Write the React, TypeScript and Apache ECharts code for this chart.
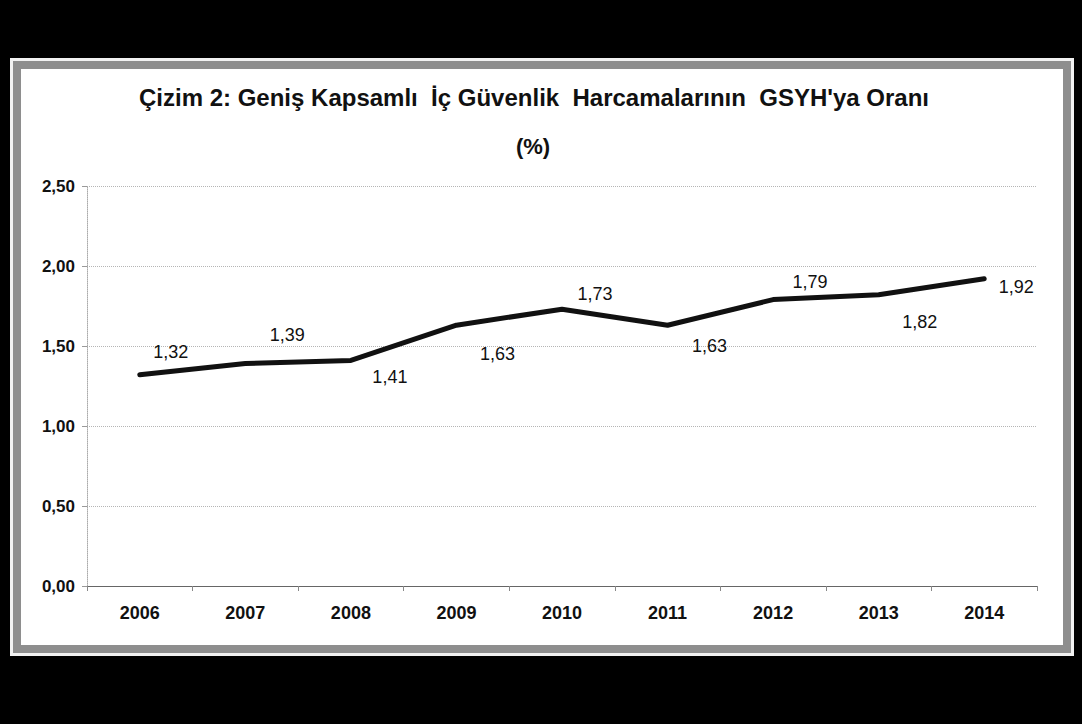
import React, { useEffect, useRef } from "react";
import * as echarts from "echarts";

const categories = ["2006", "2007", "2008", "2009", "2010", "2011", "2012", "2013", "2014"];
const values = [1.32, 1.39, 1.41, 1.63, 1.73, 1.63, 1.79, 1.82, 1.92];
const yTicks = [0, 0.5, 1, 1.5, 2, 2.5];
const titleLine1 = "Çizim 2: Geniş Kapsamlı  İç Güvenlik  Harcamalarının  GSYH'ya Oranı";
const titleLine2 = "(%)";

// label placement (style only)
const labelSide = ["top", "top", "bottom", "bottom", "top", "bottom", "top", "bottom", "right"];
const labelShift = [
  [31, -22], [42, -28], [39, 16], [41, 28], [33, -15], [42, 20], [37, -17], [41, 27], [14, 8],
];

const fmt = (v: number) => v.toFixed(2).replace(".", ",");
const FONT = "'Liberation Sans', Arial, sans-serif";

export default function App() {
  const ref = useRef<HTMLDivElement>(null);
  useEffect(() => {
    document.body.style.margin = "0";
    const chart = echarts.init(ref.current!, undefined, { renderer: "svg" });
    const seriesData = values.map((v, i) => {
      const side = labelSide[i];
      const [dx, dy] = labelShift[i];
      let offset: number[];
      if (side === "top") offset = [dx, dy + 9];
      else if (side === "bottom") offset = [dx, dy - 9];
      else offset = [0, dy];
      return {
        value: v,
        label: { position: side, distance: side === "right" ? dx : 0, offset },
      };
    });
    chart.setOption({
      animation: false,
      backgroundColor: "#000",
      graphic: [
        {
          type: "rect",
          z: -20,
          shape: { x: 10, y: 58, width: 1064, height: 598 },
          style: { fill: "#f2f2f2" },
          silent: true,
        },
        {
          type: "rect",
          z: -10,
          shape: { x: 17, y: 65, width: 1050, height: 584 },
          style: { fill: "#fff", stroke: "#8e8e8e", lineWidth: 8 },
          silent: true,
        },
        {
          type: "text",
          x: 534,
          y: 97,
          style: {
            text: titleLine1,
            fill: "#111",
            font: `bold 24px ${FONT}`,
            align: "center",
            verticalAlign: "middle",
          },
        },
        {
          type: "text",
          x: 533,
          y: 146,
          style: {
            text: titleLine2,
            fill: "#111",
            font: `bold 22px ${FONT}`,
            align: "center",
            verticalAlign: "middle",
          },
        },
      ],
      grid: { left: 87, right: 45, top: 186, bottom: 138, containLabel: false },
      xAxis: {
        type: "category",
        data: categories,
        boundaryGap: true,
        axisLine: { show: true, lineStyle: { color: "#666", width: 1 } },
        axisTick: { show: true, length: 5, lineStyle: { color: "#888" } },
        axisLabel: {
          margin: 18,
          fontSize: 18,
          fontWeight: "bold",
          color: "#111",
          fontFamily: FONT,
        },
        splitLine: { show: false },
      },
      yAxis: {
        type: "value",
        min: 0,
        max: 2.5,
        interval: 0.5,
        axisLine: { show: true, lineStyle: { color: "#aaa", type: "dotted", width: 1 } },
        axisTick: { show: true, length: 5, lineStyle: { color: "#999" } },
        axisLabel: {
          margin: 12,
          fontSize: 17,
          fontWeight: "bold",
          color: "#111",
          fontFamily: FONT,
          formatter: (v: number) => (yTicks.includes(v) ? fmt(v) : ""),
        },
        splitLine: { show: true, lineStyle: { color: "#b5b5b5", type: "dotted", width: 1 } },
      },
      series: [
        {
          type: "line",
          data: seriesData,
          symbol: "circle",
          symbolSize: 1,
          showSymbol: true,
          itemStyle: { color: "#111" },
          smooth: false,
          lineStyle: { color: "#111", width: 5, cap: "round", join: "round" },
          label: {
            show: true,
            fontSize: 18,
            color: "#111",
            fontFamily: FONT,
            formatter: (p: any) => fmt(p.value),
          },
          z: 5,
        },
      ],
    });
    return () => chart.dispose();
  }, []);
  return <div ref={ref} style={{ width: 1082, height: 724, background: "#000" }} />;
}
